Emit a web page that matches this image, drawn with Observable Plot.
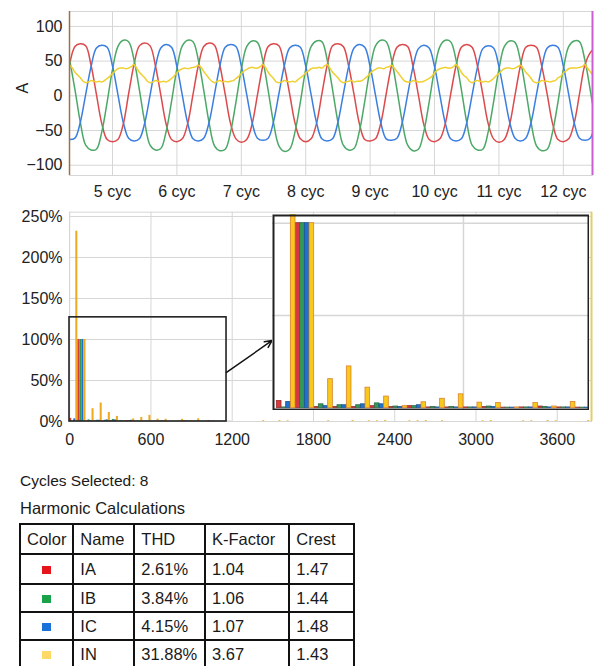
<!DOCTYPE html>
<html><head><meta charset="utf-8">
<script src="https://cdn.jsdelivr.net/npm/d3@7"></script>
<script src="https://cdn.jsdelivr.net/npm/@observablehq/plot@0.6"></script>
<style>
body{margin:0;background:#fff;}
#wrap{position:relative;width:594px;height:666px;overflow:hidden;font-family:"Liberation Sans",Arial,Helvetica,sans-serif;color:#1a1a1a;background:#fff;}
.txt{position:absolute;left:20px;line-height:1;white-space:nowrap;}
table{position:absolute;left:19px;top:523px;border-collapse:collapse;table-layout:fixed;font-size:16.5px;}
td{border:2px solid #111;padding:0 0 0 6px;white-space:nowrap;vertical-align:middle;overflow:hidden;}
td.sw{text-align:center;padding:0;}
.swatch{display:inline-block;width:9px;height:8px;vertical-align:middle;}
</style></head><body><div id="wrap"></div>
<script>
// ---------------- waveform data (A) ----------------
const cycleTicks = [5, 6, 7, 8, 9, 10, 11, 12];
const ampTicks = [-100, -50, 0, 50, 100];
const viewCycles = [4.332, 12.453];
const ampDomain = [-114.8, 121.5];
const firstSampleCycle = 4 + 1 / 3;
const phaseSamplesPerCycle = 12;
const neutralSamplesPerCycle = 24;

const IA_wave = [
  44, 71, 75, 72, 44, 2, -40, -63,
  -66, -63, -41, 3, 45, 72, 76, 72, 43, 1, -41, -63,
  -66, -62, -40, 2, 44, 71, 76, 73, 44, 2, -40, -62,
  -67, -63, -41, 1, 43, 71, 75, 72, 43, 3, -39, -62,
  -66, -62, -40, 2, 44, 72, 75, 71, 43, 2, -40, -63,
  -65, -62, -39, 3, 44, 70, 74, 71, 42, 1, -41, -63,
  -66, -62, -40, 2, 43, 70, 74, 70, 43, 2, -40, -62,
  -67, -63, -41, 1, 43, 70, 73, 70, 42, 2, -40, -63,
  -66, -62, -40, 2, 44, 62, 70
];
const IB_wave = [
  52, 9, -38, -71, -78, -77, -52, -9,
  38, 71, 80, 78, 52, 9, -38, -71, -78, -76, -51, -8,
  39, 72, 80, 78, 51, 8, -39, -72, -79, -77, -52, -9,
  38, 71, 79, 77, 51, 8, -39, -72, -80, -77, -52, -9,
  38, 71, 79, 78, 52, 9, -38, -71, -78, -76, -51, -8,
  39, 72, 80, 78, 52, 9, -38, -71, -79, -77, -52, -9,
  38, 71, 80, 78, 52, 9, -38, -71, -78, -77, -52, -9,
  38, 71, 79, 77, 51, 8, -39, -72, -79, -77, -52, -9,
  38, 71, 79, 78, 52, 9, -38
];
const IC_wave = [
  -63, -61, -38, 2, 42, 69, 73, 70,
  43, 2, -38, -61, -65, -62, -39, 1, 42, 69, 74, 70,
  42, 1, -39, -62, -65, -61, -38, 2, 43, 70, 74, 71,
  43, 2, -38, -61, -64, -61, -37, 3, 43, 69, 73, 70,
  43, 2, -38, -62, -65, -62, -38, 2, 42, 69, 74, 70,
  42, 1, -39, -62, -64, -61, -38, 2, 42, 68, 73, 69,
  42, 1, -39, -62, -65, -62, -39, 1, 41, 68, 72, 69,
  42, 2, -38, -61, -65, -61, -38, 2, 42, 69, 73, 70,
  43, 2, -38, -61, -64, -61, -37
];
const IN_wave = [
  44, 40, 34, 30, 26, 21, 19, 20, 22, 21, 20, 21, 20, 22, 25, 28,
  32, 36, 39, 40, 40, 39, 40, 42, 45, 40, 34, 30, 26, 21, 19, 20, 22, 21, 20, 21, 20, 22, 25, 29,
  33, 37, 39, 40, 39, 40, 41, 42, 44, 41, 35, 30, 25, 21, 19, 21, 22, 20, 21, 20, 21, 22, 25, 28,
  32, 36, 38, 40, 41, 40, 40, 42, 45, 41, 34, 29, 25, 20, 19, 20, 22, 21, 20, 21, 20, 23, 26, 29,
  33, 36, 39, 40, 40, 41, 40, 43, 45, 40, 34, 30, 26, 21, 19, 20, 21, 22, 20, 21, 21, 22, 25, 28,
  32, 36, 38, 40, 40, 39, 41, 42, 44, 40, 35, 30, 25, 21, 20, 20, 22, 21, 20, 20, 21, 23, 25, 28,
  33, 37, 39, 40, 41, 40, 40, 42, 45, 41, 34, 29, 26, 21, 19, 21, 22, 21, 20, 21, 20, 22, 25, 29,
  32, 36, 39, 40, 40, 39, 40, 42, 44, 40, 34, 30, 25, 20, 19, 20, 22, 21, 21, 20, 21, 22, 26, 28,
  33, 36, 39, 40, 40, 40, 41, 42, 45, 40, 35, 30, 26
];

// ---------------- harmonic spectrum data (% of fundamental) ----------------
const fundamentalHz = 60;
const freqTicks = [0, 600, 1200, 1800, 2400, 3000, 3600];
const pctTicks = [0, 50, 100, 150, 200, 250];
const freqDomain = [-1.5, 3853];
const pctDomain = [0, 255.2];
const harmonicOrders = [0, 1, 2, 3, 4, 5, 6, 7, 8, 9, 10, 11, 12, 13, 14, 15, 16, 17, 18, 19];
const IA_pct = [3.8, 100, 0.5, 0.5, 0.5, 1.0, 0.5, 1.0, 0.3, 0.3, 0.3, 0.5, 0.2, 0.3, 0.8, 0.3, 0.2, 1.0, 0.2, 0.2];
const IB_pct = [0.3, 100, 2.0, 1.5, 1.5, 2.5, 0.8, 1.0, 0.5, 0.5, 0.3, 0.8, 0.2, 0.3, 0.6, 0.3, 0.2, 0.3, 0.2, 0.2];
const IC_pct = [3.2, 100, 1.0, 1.5, 2.0, 2.0, 0.5, 1.5, 0.3, 0.3, 0.3, 0.5, 0.2, 0.3, 0.3, 0.3, 0.2, 0.3, 0.2, 0.2];
const IN_pct = [232, 100, 15.6, 22.5, 11.0, 6.2, 1.0, 3.1, 5.0, 7.4, 2.9, 2.7, 0.3, 2.7, 0.8, 3.3, 0.3, 0.5, 0.3, 0.3];
const highOrders = [23, 25, 26, 31, 34, 36, 37, 38, 41, 42, 43, 45, 50, 51, 55, 56, 58, 59, 63];
const highIN_pct = [0.9, 1.0, 0.8, 0.8, 1.0, 0.8, 0.8, 1.0, 0.8, 0.9, 1.0, 0.8, 0.8, 1.0, 0.8, 0.8, 1.0, 0.8, 1.0];
const zoomBox = [{x1: -1.5, x2: 1158, y1: 0, y2: 127}];
const zoomArrow = [{x1: 1158, y1: 59.8, x2: 1495, y2: 98.8}];
const insetFreqDomain = [-14, 1005.3];
const insetPctDomain = [-1.35, 104.7];
const insetFreqGrid = [600];
const insetPctGrid = [50, 100];

// ---------------- table data ----------------
const cyclesSelected = 8;
const tableHeaders = ["Color", "Name", "THD", "K-Factor", "Crest"];
const channelNames = ["IA", "IB", "IC", "IN"];
const channelSwatch = ["#e8141c", "#18a34a", "#1a72d8", "#ffd966"];
const thdValues = ["2.61%", "3.84%", "4.15%", "31.88%"];
const kFactorValues = ["1.04", "1.06", "1.07", "3.67"];
const crestValues = ["1.47", "1.44", "1.48", "1.43"];

// ---------------- rendering ----------------
const font = '"Liberation Sans", Arial, Helvetica, sans-serif';
const gridColor = "#d6d6d6";
const wrap = document.getElementById("wrap");
const minus = d => (d < 0 ? "\u2212" + Math.abs(d) : String(d));

function samples(vals, perCycle) {
  return vals.map((v, k) => ({t: firstSampleCycle + k / perCycle, v}));
}
const waves = [
  {vals: IA_wave, per: phaseSamplesPerCycle, color: "#dc4a4c"},
  {vals: IB_wave, per: phaseSamplesPerCycle, color: "#4ca866"},
  {vals: IC_wave, per: phaseSamplesPerCycle, color: "#3a7fe0"},
  {vals: IN_wave, per: neutralSamplesPerCycle, color: "#f0d030"}
];

const topSvg = Plot.plot({
  width: 594, height: 200,
  marginLeft: 69, marginRight: 2, marginTop: 11, marginBottom: 25,
  style: {fontFamily: font, fontSize: "16px", color: "#222", background: "transparent", overflow: "visible"},
  x: {domain: viewCycles, label: null},
  y: {domain: ampDomain, label: null},
  marks: [
    Plot.gridX(cycleTicks, {stroke: gridColor, strokeOpacity: 1}),
    Plot.gridY(ampTicks, {stroke: gridColor, strokeOpacity: 1}),
    Plot.frame({stroke: gridColor}),
    ...waves.map(w => Plot.line(samples(w.vals, w.per), {x: "t", y: "v", stroke: w.color, strokeWidth: 1.5, curve: "catmull-rom", clip: true})),
    Plot.ruleX([viewCycles[0]], {stroke: "#9c7048", strokeWidth: 1.5}),
    Plot.ruleX([viewCycles[1]], {stroke: "#c95fd2", strokeWidth: 2}),
    Plot.axisX(cycleTicks, {tickSize: 0, tickPadding: 10, tickFormat: d => `${d} cyc`, label: null}),
    Plot.axisY(ampTicks, {tickSize: 0, tickPadding: 7, tickFormat: minus, label: null}),
    Plot.text(["A"], {frameAnchor: "left", dx: -47, rotate: -90, fontSize: 16, fill: "#222"})
  ]
});
topSvg.style.position = "absolute"; topSvg.style.left = "0px"; topSvg.style.top = "0px";
wrap.appendChild(topSvg);

const seriesDefs = [
  {pct: IA_pct, fill: "#d83a3a", insetFill: "#d63a40", stroke: "#9a2a2a"},
  {pct: IB_pct, fill: "#2f9a5b", insetFill: "#33985a", stroke: "#2a6b40"},
  {pct: IC_pct, fill: "#1f6fd1", insetFill: "#1f70d0", stroke: "#1a5296"},
  {pct: IN_pct, fill: "#eeaa1e", insetFill: "#f8c81c", stroke: "#d9842c"}
];
const slotHz = fundamentalHz / seriesDefs.length;
seriesDefs.forEach((s, i) => {
  s.bars = harmonicOrders.map((h, k) => ({f1: h * fundamentalHz + i * slotHz, f2: h * fundamentalHz + (i + 1) * slotHz, y1: 0, y2: s.pct[k]}));
});
highOrders.forEach((h, k) => {
  seriesDefs[3].bars.push({f1: h * fundamentalHz + 3 * slotHz, f2: h * fundamentalHz + 4 * slotHz, y1: 0, y2: highIN_pct[k]});
});

const midSvg = Plot.plot({
  width: 594, height: 250,
  marginLeft: 69, marginRight: 3, marginTop: 11.7, marginBottom: 29,
  style: {fontFamily: font, fontSize: "16px", color: "#222", background: "transparent", overflow: "visible"},
  x: {domain: freqDomain, label: null},
  y: {domain: pctDomain, label: null},
  marks: [
    Plot.frame({stroke: gridColor}),
    Plot.gridX(freqTicks, {stroke: gridColor, strokeOpacity: 1}),
    Plot.gridY(pctTicks, {stroke: gridColor, strokeOpacity: 1}),
    ...seriesDefs.map(s => Plot.rect(s.bars, {x1: "f1", x2: "f2", y1: "y1", y2: "y2", fill: s.fill})),
    Plot.rect(zoomBox, {x1: "x1", x2: "x2", y1: "y1", y2: "y2", fill: "none", stroke: "#222", strokeWidth: 1.6}),
    Plot.arrow(zoomArrow, {x1: "x1", y1: "y1", x2: "x2", y2: "y2", stroke: "#111", strokeWidth: 1.5, headLength: 8, headAngle: 50}),
    Plot.ruleX([freqDomain[1]], {stroke: "#e2cf6a", strokeWidth: 2}),
    Plot.axisX(freqTicks, {tickSize: 0, tickPadding: 12.6, tickFormat: d => `${d}`, label: null}),
    Plot.axisY(pctTicks, {tickSize: 0, tickPadding: 7, tickFormat: d => `${d}%`, label: null})
  ]
});
midSvg.style.position = "absolute"; midSvg.style.left = "0px"; midSvg.style.top = "200px";
wrap.appendChild(midSvg);

const insetSvg = Plot.plot({
  width: 317, height: 196, margin: 0,
  style: {background: "#fff", overflow: "hidden"},
  x: {domain: insetFreqDomain, axis: null},
  y: {domain: insetPctDomain, axis: null},
  marks: [
    Plot.gridX(insetFreqGrid, {stroke: gridColor, strokeOpacity: 1, strokeWidth: 1.5}),
    Plot.gridY(insetPctGrid, {stroke: gridColor, strokeOpacity: 1, strokeWidth: 1.5}),
    ...seriesDefs.map(s => Plot.rect(s.bars, {x1: "f1", x2: "f2", y1: "y1", y2: "y2", fill: s.insetFill, stroke: s.stroke, strokeWidth: 0.8, clip: true})),
    Plot.frame({stroke: "#222", strokeWidth: 2, inset: 1})
  ]
});
insetSvg.style.position = "absolute"; insetSvg.style.left = "272px"; insetSvg.style.top = "214px";
wrap.appendChild(insetSvg);

// text block
const t1 = document.createElement("div");
t1.className = "txt"; t1.style.top = "473px"; t1.style.fontSize = "15.5px";
t1.textContent = `Cycles Selected: ${cyclesSelected}`;
wrap.appendChild(t1);
const t2 = document.createElement("div");
t2.className = "txt"; t2.style.top = "500px"; t2.style.fontSize = "16.5px";
t2.textContent = "Harmonic Calculations";
wrap.appendChild(t2);

const colWidths = [53.3, 61, 70.7, 84.3, 65];
const rowHeights = [30, 30, 28, 28, 28];
const table = document.createElement("table");
const cg = document.createElement("colgroup");
colWidths.forEach(w => { const c = document.createElement("col"); c.style.width = w + "px"; cg.appendChild(c); });
table.appendChild(cg);
table.style.width = colWidths.reduce((a, b) => a + b, 0) + "px";
const hr = document.createElement("tr"); hr.style.height = rowHeights[0] + "px";
tableHeaders.forEach(h => { const td = document.createElement("td"); td.textContent = h; hr.appendChild(td); });
table.appendChild(hr);
channelNames.forEach((n, i) => {
  const tr = document.createElement("tr"); tr.style.height = rowHeights[i + 1] + "px";
  const sw = document.createElement("td"); sw.className = "sw";
  const box = document.createElement("span"); box.className = "swatch"; box.style.background = channelSwatch[i];
  sw.appendChild(box); tr.appendChild(sw);
  [n, thdValues[i], kFactorValues[i], crestValues[i]].forEach(v => {
    const td = document.createElement("td"); td.textContent = v; tr.appendChild(td);
  });
  table.appendChild(tr);
});
wrap.appendChild(table);
</script></body></html>
